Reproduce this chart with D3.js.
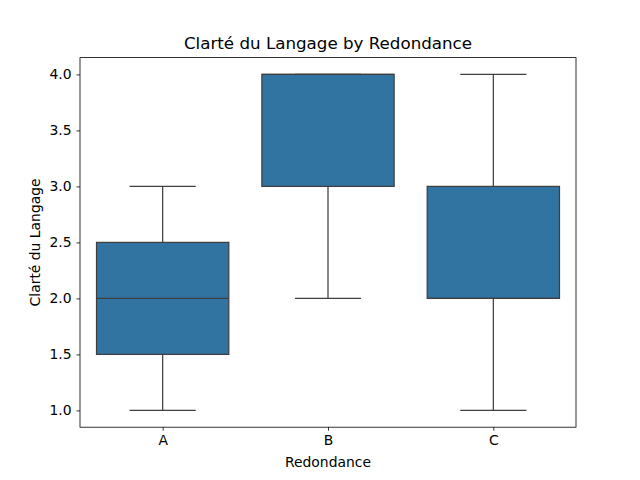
<!DOCTYPE html>
<html>
<head>
<meta charset="utf-8">
<script src="https://cdn.jsdelivr.net/npm/d3@7"></script>
<style>
  body { margin: 0; background: #fff; }
  text { font-family: "DejaVu Sans", sans-serif; fill: #000; }
</style>
</head>
<body>
<svg id="chart" width="640" height="480"></svg>
<script>
// box stats
var categories = ["A", "B", "C"];
var whiskerLow = [1.0, 2.0, 1.0];
var q1 = [1.5, 3.0, 2.0];
var medians = [2.0, 4.0, 2.0];
var q3 = [2.5, 4.0, 3.0];
var whiskerHigh = [3.0, 4.0, 4.0];
var yTicks = [1.0, 1.5, 2.0, 2.5, 3.0, 3.5, 4.0];

var boxes = categories.map(function(c, i) {
  return {cat: c, lo: whiskerLow[i], q1: q1[i], med: medians[i], q3: q3[i], hi: whiskerHigh[i]};
});

var svg = d3.select("#chart");
var m = {left: 80, right: 64, top: 57.6, bottom: 52.8};
var w = 640 - m.left - m.right, h = 480 - m.top - m.bottom;
var g = svg.append("g").attr("transform", "translate(" + m.left + "," + m.top + ")");

// categorical positions like matplotlib: -0.5 .. n-0.5
var x = d3.scaleLinear().domain([-0.5, categories.length - 0.5]).range([0, w]);
var y = d3.scaleLinear().domain([0.85, 4.15]).range([h, 0]);
var boxW = x(0.4) - x(0);
var edge = "#3f3f3f";

var b = g.selectAll("g.box").data(boxes).enter().append("g").attr("class", "box");

// whiskers
b.append("line")
  .attr("x1", function(d, i) { return x(i); }).attr("x2", function(d, i) { return x(i); })
  .attr("y1", function(d) { return y(d.lo); }).attr("y2", function(d) { return y(d.q1); })
  .attr("stroke", edge).attr("stroke-width", 1.25);
b.append("line")
  .attr("x1", function(d, i) { return x(i); }).attr("x2", function(d, i) { return x(i); })
  .attr("y1", function(d) { return y(d.q3); }).attr("y2", function(d) { return y(d.hi); })
  .attr("stroke", edge).attr("stroke-width", 1.25);
// caps
["lo", "hi"].forEach(function(k) {
  b.append("line")
    .attr("x1", function(d, i) { return x(i) - boxW / 2; })
    .attr("x2", function(d, i) { return x(i) + boxW / 2; })
    .attr("y1", function(d) { return y(d[k]); }).attr("y2", function(d) { return y(d[k]); })
    .attr("stroke", edge).attr("stroke-width", 1.25);
});
// boxes
b.append("rect")
  .attr("x", function(d, i) { return x(i) - boxW; })
  .attr("width", boxW * 2)
  .attr("y", function(d) { return y(d.q3); })
  .attr("height", function(d) { return y(d.q1) - y(d.q3); })
  .attr("fill", "#3274a1").attr("stroke", edge).attr("stroke-width", 1.25);
// medians
b.append("line")
  .attr("x1", function(d, i) { return x(i) - boxW; })
  .attr("x2", function(d, i) { return x(i) + boxW; })
  .attr("y1", function(d) { return y(d.med); }).attr("y2", function(d) { return y(d.med); })
  .attr("stroke", edge).attr("stroke-width", 1.25);

// axes
var xAxis = g.append("g").attr("transform", "translate(0," + h + ")")
  .call(d3.axisBottom(x).tickValues(d3.range(categories.length))
    .tickFormat(function(i) { return categories[i]; }).tickSize(3.5).tickPadding(4.9));
var yAxis = g.append("g")
  .call(d3.axisLeft(y).tickValues(yTicks).tickFormat(d3.format(".1f")).tickSize(3.5).tickPadding(4.9));
[xAxis, yAxis].forEach(function(a) {
  a.select(".domain").remove();
  a.selectAll("line").attr("stroke", "#000").attr("stroke-width", 0.8);
  a.selectAll("text").attr("font-size", "13.9px").attr("font-family", "DejaVu Sans, sans-serif");
});

g.append("rect").attr("width", w).attr("height", h)
  .attr("fill", "none").attr("stroke", "#000").attr("stroke-width", 0.8);

g.append("text").attr("x", w / 2).attr("y", -8.5).attr("text-anchor", "middle")
  .attr("font-size", "16.7px").text("Clarté du Langage by Redondance");
g.append("text").attr("x", w / 2).attr("y", h + 40).attr("text-anchor", "middle")
  .attr("font-size", "13.9px").text("Redondance");
g.append("text").attr("transform", "translate(-40," + (h / 2) + ") rotate(-90)")
  .attr("text-anchor", "middle").attr("font-size", "13.9px").text("Clarté du Langage");
</script>
</body>
</html>
